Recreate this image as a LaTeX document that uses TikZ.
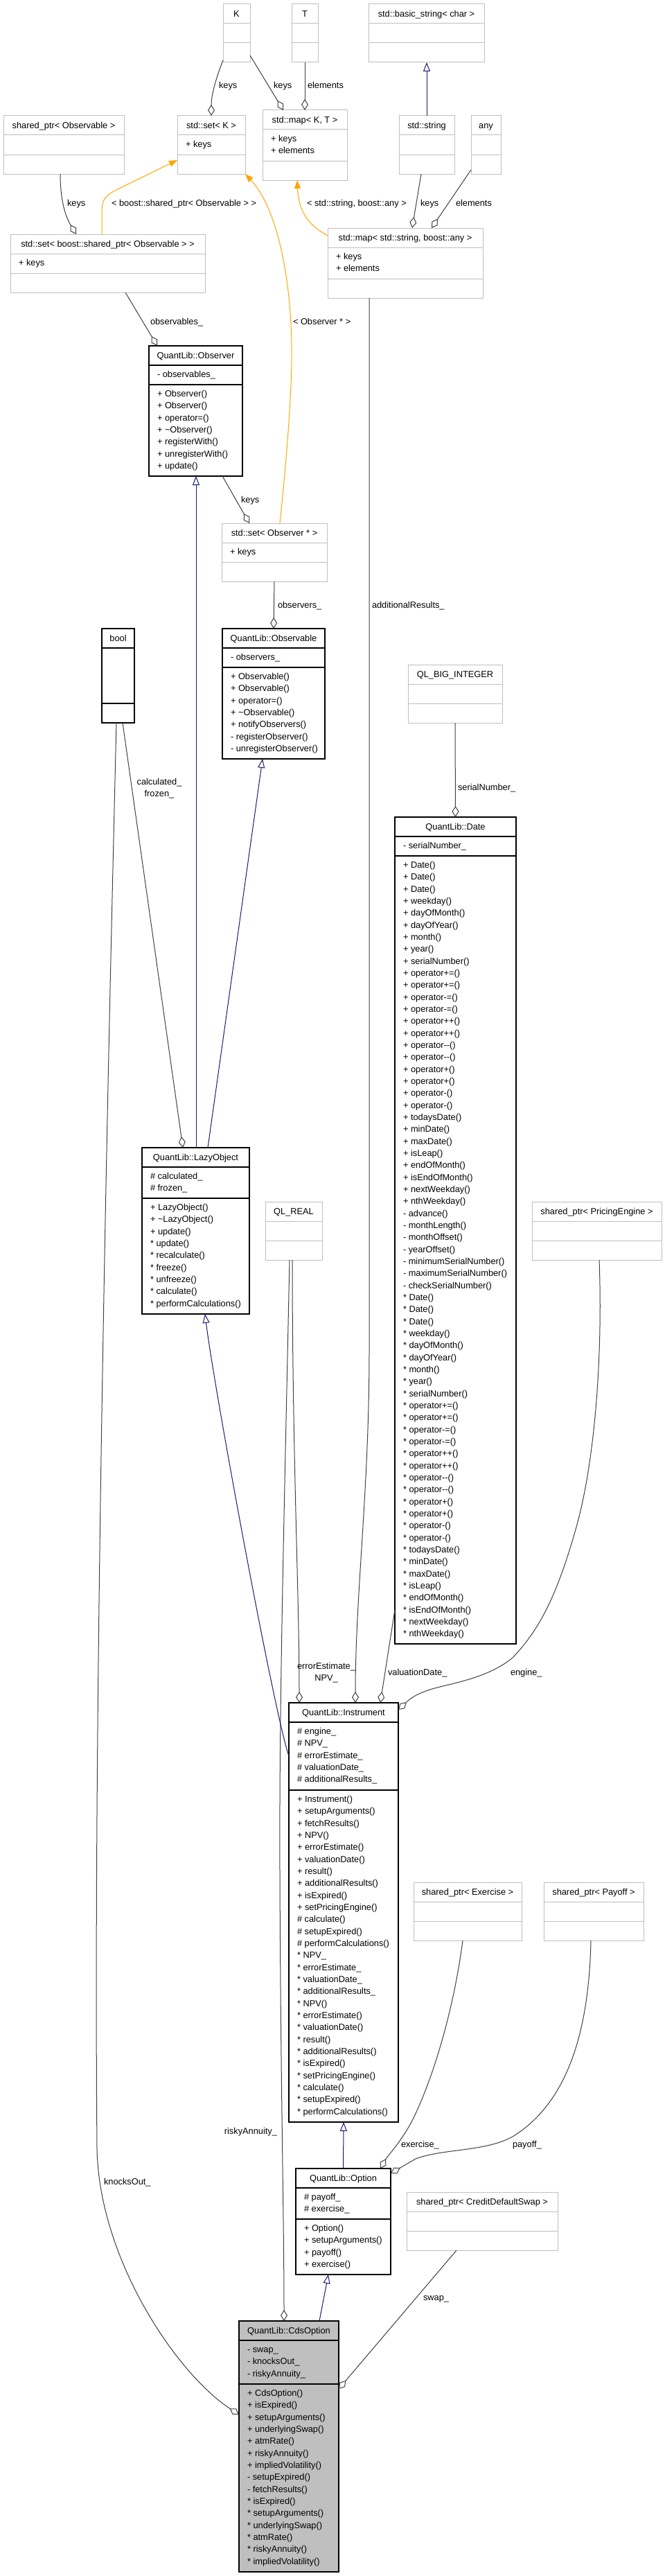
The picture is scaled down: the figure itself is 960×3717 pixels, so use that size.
\documentclass[tikz,border=0pt]{standalone}
\usepackage{fontspec}
\setmainfont{Liberation Sans}
\usetikzlibrary{arrows.meta}
\definecolor{gA}{HTML}{BFBFBF}
\definecolor{gB}{HTML}{404040}
\definecolor{mblue}{HTML}{191970}
\definecolor{orng}{HTML}{FFA500}
\tikzset{
  gbox/.style={draw=gA, line width=1pt, fill=white, inner sep=0pt, outer sep=0pt},
  bbox/.style={draw=black, line width=1.3pt, fill=white, inner sep=0pt, outer sep=0pt},
  cbox/.style={bbox, fill=gA},
  sepg/.style={draw=gA, line width=1pt},
  sepb/.style={draw=black, line width=1.3pt},
  txt/.style={inner sep=0pt, outer sep=0pt, font=\fontsize{12.8}{17.33}\selectfont, text=black},
  agg/.style={draw=gB, line width=1pt, -{Diamond[open, length=16pt, width=10pt, fill=white]}},
  inh/.style={draw=mblue, line width=1pt, -{Triangle[open, length=13pt, width=10pt, fill=white]}},
  tpl/.style={draw=orng, line width=1pt, -{Triangle[length=12pt, width=9pt, fill=orng]}},
}
\newcommand\mnl{\\\strut}
% name, style, x, y, width, attr height, method height, title, separator style
\newcommand\umlcls[9]{%
  \node[#2, anchor=north west, minimum width=#5pt, minimum height={28pt+#6pt+#7pt}] (#1) at (#3,#4) {};
  \draw[#9] ([yshift=-28pt]#1.north west) -- ([yshift=-28pt]#1.north east);
  \draw[#9] ([yshift={-28pt-#6pt}]#1.north west) -- ([yshift={-28pt-#6pt}]#1.north east);
  \node[txt, anchor=base] (#1-t) at ([yshift=-18.5pt]#1.north) {#8};
}
% name, suffix, offset from top, text
\newcommand\umlmem[4]{%
  \node[txt, anchor=north west, align=left] (#1-#2) at ([xshift=12pt,yshift=-#3pt]#1.north west) {\strut #4};
}
\begin{document}
\begin{tikzpicture}[x=1pt,y=-1pt]
\useasboundingbox (0,0) rectangle (960,3717);
\fill[white] (0,0) rectangle (960,3717);

% ---------- boxes ----------
\umlcls{K}{gbox}{322}{6}{39}{28}{28}{K}{sepg}
\umlcls{T}{gbox}{421}{6}{38}{28}{28}{T}{sepg}
\umlcls{bstr}{gbox}{532}{6}{167}{28}{28}{std::basic\_string< char >}{sepg}
\umlcls{spObs}{gbox}{5}{167}{174}{28}{28}{shared\_ptr< Observable >}{sepg}
\umlcls{setK}{gbox}{256}{167}{98}{28}{28}{std::set< K >}{sepg}
\umlmem{setK}{a}{33.4}{+ keys}
\umlcls{mapKT}{gbox}{379}{159}{122}{45}{28}{std::map< K, T >}{sepg}
\umlmem{mapKT}{a}{33.4}{+ keys\mnl + elements}
\umlcls{sstr}{gbox}{576}{167}{80}{28}{28}{std::string}{sepg}
\umlcls{any}{gbox}{680}{167}{43}{28}{28}{any}{sepg}
\umlcls{setSP}{gbox}{15}{338}{281}{28}{28}{std::set< boost::shared\_ptr< Observable > >}{sepg}
\umlmem{setSP}{a}{33.4}{+ keys}
\umlcls{mapSA}{gbox}{473}{329}{224}{45}{28}{std::map< std::string, boost::any >}{sepg}
\umlmem{mapSA}{a}{33.4}{+ keys\mnl + elements}

\umlcls{Obsr}{bbox}{215}{499}{135}{28}{132}{QuantLib::Observer}{sepb}
\umlmem{Obsr}{a}{33.4}{- observables\_}
\umlmem{Obsr}{m}{61.4}{+ Observer()\mnl + Observer()\mnl + operator=()\mnl + \textasciitilde Observer()\mnl + registerWith()\mnl + unregisterWith()\mnl + update()}

\umlcls{setObs}{gbox}{320}{755}{152}{28}{28}{std::set< Observer * >}{sepg}
\umlmem{setObs}{a}{33.4}{+ keys}

\umlcls{Obsl}{bbox}{321}{907}{148}{28}{132}{QuantLib::Observable}{sepb}
\umlmem{Obsl}{a}{33.4}{- observers\_}
\umlmem{Obsl}{m}{61.4}{+ Observable()\mnl + Observable()\mnl + operator=()\mnl + \textasciitilde Observable()\mnl + notifyObservers()\mnl - registerObserver()\mnl - unregisterObserver()}

\umlcls{bool}{bbox}{147}{907}{47}{80}{28}{bool}{sepb}
\umlcls{QLBI}{gbox}{589}{959}{136}{28}{28}{QL\_BIG\_INTEGER}{sepg}

\umlcls{Date}{bbox}{570}{1179}{175}{28}{1137}{QuantLib::Date}{sepb}
\umlmem{Date}{a}{33.4}{- serialNumber\_}
\umlmem{Date}{m}{61.4}{+ Date()\mnl + Date()\mnl + Date()\mnl + weekday()\mnl + dayOfMonth()\mnl + dayOfYear()\mnl + month()\mnl + year()\mnl + serialNumber()\mnl + operator+=()\mnl + operator+=()\mnl + operator-=()\mnl + operator-=()\mnl + operator++()\mnl + operator++()\mnl + operator-{}-()\mnl + operator-{}-()\mnl + operator+()\mnl + operator+()\mnl + operator-()\mnl + operator-()\mnl + todaysDate()\mnl + minDate()\mnl + maxDate()\mnl + isLeap()\mnl + endOfMonth()\mnl + isEndOfMonth()\mnl + nextWeekday()\mnl + nthWeekday()\mnl - advance()\mnl - monthLength()\mnl - monthOffset()\mnl - yearOffset()\mnl - minimumSerialNumber()\mnl - maximumSerialNumber()\mnl - checkSerialNumber()\mnl * Date()\mnl * Date()\mnl * Date()\mnl * weekday()\mnl * dayOfMonth()\mnl * dayOfYear()\mnl * month()\mnl * year()\mnl * serialNumber()\mnl * operator+=()\mnl * operator+=()\mnl * operator-=()\mnl * operator-=()\mnl * operator++()\mnl * operator++()\mnl * operator-{}-()\mnl * operator-{}-()\mnl * operator+()\mnl * operator+()\mnl * operator-()\mnl * operator-()\mnl * todaysDate()\mnl * minDate()\mnl * maxDate()\mnl * isLeap()\mnl * endOfMonth()\mnl * isEndOfMonth()\mnl * nextWeekday()\mnl * nthWeekday()}

\umlcls{Lazy}{bbox}{205}{1656}{155}{45}{167}{QuantLib::LazyObject}{sepb}
\umlmem{Lazy}{a}{33.4}{\# calculated\_\mnl \# frozen\_}
\umlmem{Lazy}{m}{78.4}{+ LazyObject()\mnl + \textasciitilde LazyObject()\mnl + update()\mnl * update()\mnl * recalculate()\mnl * freeze()\mnl * unfreeze()\mnl * calculate()\mnl * performCalculations()}

\umlcls{QLR}{gbox}{383}{1734}{82}{28}{28}{QL\_REAL}{sepg}
\umlcls{spPE}{gbox}{768}{1734}{187}{28}{28}{shared\_ptr< PricingEngine >}{sepg}

\umlcls{Inst}{bbox}{417}{2457}{158}{98}{479}{QuantLib::Instrument}{sepb}
\umlmem{Inst}{a}{33.4}{\# engine\_\mnl \# NPV\_\mnl \# errorEstimate\_\mnl \# valuationDate\_\mnl \# additionalResults\_}
\umlmem{Inst}{m}{131.4}{+ Instrument()\mnl + setupArguments()\mnl + fetchResults()\mnl + NPV()\mnl + errorEstimate()\mnl + valuationDate()\mnl + result()\mnl + additionalResults()\mnl + isExpired()\mnl + setPricingEngine()\mnl \# calculate()\mnl \# setupExpired()\mnl \# performCalculations()\mnl * NPV\_\mnl * errorEstimate\_\mnl * valuationDate\_\mnl * additionalResults\_\mnl * NPV()\mnl * errorEstimate()\mnl * valuationDate()\mnl * result()\mnl * additionalResults()\mnl * isExpired()\mnl * setPricingEngine()\mnl * calculate()\mnl * setupExpired()\mnl * performCalculations()}

\umlcls{spEx}{gbox}{597}{2716}{156}{28}{28}{shared\_ptr< Exercise >}{sepg}
\umlcls{spPay}{gbox}{785}{2716}{144}{28}{28}{shared\_ptr< Payoff >}{sepg}

\umlcls{Opt}{bbox}{427}{3129}{137}{45}{80}{QuantLib::Option}{sepb}
\umlmem{Opt}{a}{33.4}{\# payoff\_\mnl \# exercise\_}
\umlmem{Opt}{m}{78.4}{+ Option()\mnl + setupArguments()\mnl + payoff()\mnl + exercise()}

\umlcls{spCDS}{gbox}{587}{3163}{218}{28}{28}{shared\_ptr< CreditDefaultSwap >}{sepg}

\umlcls{Cds}{cbox}{345}{3349}{144}{63}{271}{QuantLib::CdsOption}{sepb}
\umlmem{Cds}{a}{33.4}{- swap\_\mnl - knocksOut\_\mnl - riskyAnnuity\_}
\umlmem{Cds}{m}{96.4}{+ CdsOption()\mnl + isExpired()\mnl + setupArguments()\mnl + underlyingSwap()\mnl + atmRate()\mnl + riskyAnnuity()\mnl + impliedVolatility()\mnl - setupExpired()\mnl - fetchResults()\mnl * isExpired()\mnl * setupArguments()\mnl * underlyingSwap()\mnl * atmRate()\mnl * riskyAnnuity()\mnl * impliedVolatility()}

% ---------- edges ----------
\draw[agg] ([yshift=3pt]K.south west) .. controls +(-10,25) and +(0,-30) .. ([xshift=49pt]setK.north west);
\draw[agg] ([yshift=10pt]K.south east) -- ([xshift=30pt]mapKT.north west);
\draw[agg] (T.south) -- (T.south |- mapKT.north);
\draw[inh] (sstr.north) -- (bstr.south -| sstr.north);
\draw[agg] ([xshift=82pt]spObs.south west) .. controls +(0,40) and +(-15,-25) .. ([xshift=95pt]setSP.north west);
\draw[tpl] ([xshift=132pt]setSP.north west) -- (147,305) .. controls (147,288) and (152,282) .. (170,273) -- ([yshift=20pt]setK.south west);
\draw[tpl] ([xshift=84pt]setObs.north west) .. controls (414,660) and (422,560) .. (421,500) .. controls (420,400) and (400,300) .. (setK.south east);
\draw[tpl] ([yshift=-11pt]mapSA.north west) .. controls (445,325) and (431,305) .. ([xshift=50pt]mapKT.south west);
\draw[agg] ([xshift=32pt]sstr.south west) -- ([xshift=122pt]mapSA.north west);
\draw[agg] ([yshift=6pt]any.south west) -- ([xshift=150pt]mapSA.north west);
\draw[agg] ([xshift=166pt]setSP.south west) -- ([xshift=12pt]Obsr.north west);
\draw[agg] ([xshift=106pt]Obsr.south west) -- ([xshift=40pt]setObs.north west);
\draw[agg] (setObs.south) -- (Obsl.north);
\draw[inh] ([xshift=78pt]Lazy.north west) -- ([xshift=68pt]Obsr.south west);
\draw[inh] ([xshift=95pt]Lazy.north west) -- ([xshift=58pt]Obsl.south west);
\draw[agg] ([xshift=30pt]bool.south west) -- ([xshift=59pt]Lazy.north west);
\draw[agg] ([xshift=21pt]bool.south west) .. controls (152,1700) and (135,2500) .. (140,3100) .. controls (143,3260) and (255,3425) .. ([yshift=-135pt]Cds.north west);
\draw[agg] (QLBI.south) -- (Date.north);
\draw[agg] ([xshift=60pt]mapSA.south west) -- (533,1950) .. controls (533,2150) and (513,2300) .. ([xshift=96pt]Inst.north west);
\draw[agg] ([xshift=39pt]QLR.south west) .. controls (422,2100) and (432,2300) .. ([xshift=15pt]Inst.north west);
\draw[agg] ([xshift=35pt]QLR.south west) .. controls (410,2200) and (403,2450) .. (404,2700) .. controls (405,3000) and (410,3200) .. ([xshift=65pt]Cds.north west);
\draw[agg] ([yshift=49pt]Date.south west) -- ([xshift=132pt]Inst.north west);
\draw[agg] ([xshift=97pt]spPE.south west) .. controls (870,1950) and (860,2100) .. (833,2200) .. controls (805,2300) and (780,2350) .. (740,2392) .. controls (700,2425) and (640,2430) .. (615,2440) .. controls (595,2447) and (588,2455) .. ([yshift=-10pt]Inst.north east);
\draw[inh] (Opt.north) -- (Inst.south);
\draw[inh] ([yshift=-77pt]Inst.north west) .. controls +(-22,-65) and +(12,100) .. ([xshift=91pt]Lazy.south west);
\draw[agg] ([xshift=71pt]spEx.south west) .. controls (655,2900) and (625,3000) .. (595,3060) .. controls (578,3092) and (560,3110) .. ([xshift=122pt]Opt.north west);
\draw[agg] ([xshift=68pt]spPay.south west) .. controls (850,2950) and (810,3040) .. (740,3083) .. controls (700,3105) and (640,3100) .. (600,3115) -- ([yshift=-7pt]Opt.north east);
\draw[agg] ([xshift=72pt]spCDS.south west) -- ([yshift=-98pt]Cds.north east);
\draw[inh] ([xshift=116pt]Cds.north west) -- ([xshift=47pt]Opt.south west);

% ---------- edge labels ----------
\node[txt, anchor=base west] (lb1) at (316,127.5) {keys};
\node[txt, anchor=base west] (lb2) at (395,127.5) {keys};
\node[txt, anchor=base west] (lb3) at (444,127.5) {elements};
\node[txt, anchor=base west] (lb4) at (97,297.5) {keys};
\node[txt, anchor=base west] (lb5) at (161,297.5) {< boost::shared\_ptr< Observable > >};
\node[txt, anchor=base west] (lb6) at (443,297.5) {< std::string, boost::any >};
\node[txt, anchor=base west] (lb7) at (607,297.5) {keys};
\node[txt, anchor=base west] (lb8) at (658,297.5) {elements};
\node[txt, anchor=base west] (lb9) at (217,468.5) {observables\_};
\node[txt, anchor=base west] (lb10) at (423,468.5) {< Observer * >};
\node[txt, anchor=base west] (lb11) at (348,725.5) {keys};
\node[txt, anchor=base west] (lb12) at (401,877.5) {observers\_};
\node[txt, anchor=base west] (lb13) at (537,877.5) {additionalResults\_};
\node[txt, anchor=north, align=center] (lb14) at (230,1120.4) {\strut calculated\_\mnl frozen\_};
\node[txt, anchor=base west] (lb15) at (661,1140.5) {serialNumber\_};
\node[txt, anchor=north, align=center] (lb16) at (471,2396.4) {\strut errorEstimate\_\mnl NPV\_};
\node[txt, anchor=base west] (lb17) at (560,2417.5) {valuationDate\_};
\node[txt, anchor=base west] (lb18) at (737,2417.5) {engine\_};
\node[txt, anchor=base west] (lb19) at (579,3098.5) {exercise\_};
\node[txt, anchor=base west] (lb20) at (740,3098.5) {payoff\_};
\node[txt, anchor=base east] (lb21) at (400,3079.5) {riskyAnnuity\_};
\node[txt, anchor=base west] (lb22) at (611,3319.5) {swap\_};
\node[txt, anchor=base west] (lb23) at (150,3152.5) {knocksOut\_};
\end{tikzpicture}
\end{document}
